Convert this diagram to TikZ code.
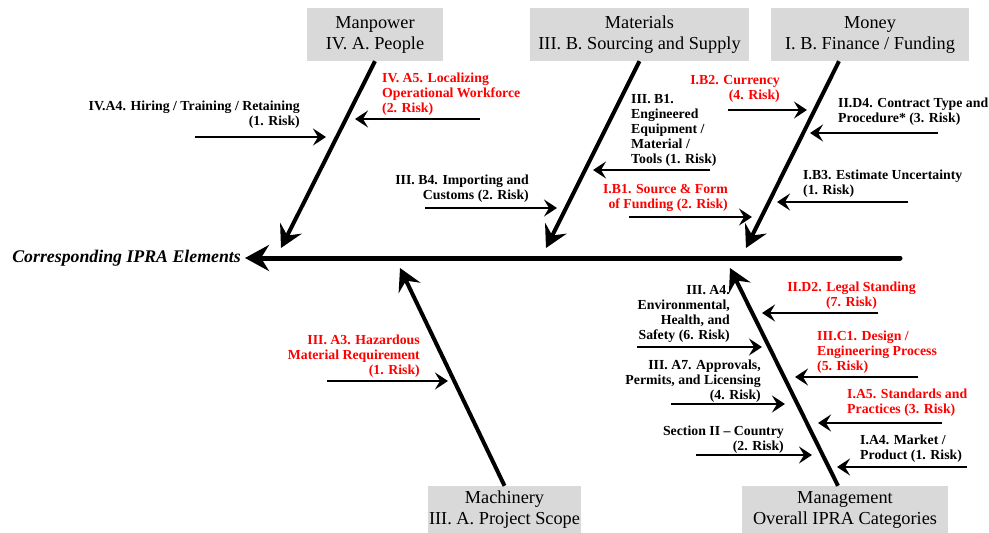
\documentclass[tikz,border=0pt]{standalone}
\usepackage{fontspec}
\setmainfont{Liberation Serif}
\usetikzlibrary{arrows.meta}
\definecolor{boxgray}{HTML}{D9D9D9}
\definecolor{riskred}{HTML}{FF0000}
\begin{document}
\begin{tikzpicture}[x=1pt,y=-1pt,
  catbox/.style={fill=boxgray, minimum height=53pt, align=center, font=\fontsize{18.3}{21}\selectfont, inner sep=0pt},
  lab/.style={font=\bfseries\fontsize{13.8}{15}\selectfont, inner sep=0pt},
  redlab/.style={lab, text=riskred},
  spine/.style={line width=5pt, -{Stealth[length=24pt,width=26pt,inset=8pt]}},
  bone/.style={line width=4pt, -{Stealth[length=22pt,width=24pt,inset=8pt]}},
  sub/.style={line width=2pt, -{Stealth[length=13pt,width=17pt,inset=5pt]}}]
\fill[white] (0,0) rectangle (989,533);
\useasboundingbox (0,0) rectangle (989,533);

% category boxes
\node[catbox, minimum width=136pt] (manpower) at (375,34.5) {Manpower\\IV. A. People};
\node[catbox, minimum width=219pt] (materials) at (639.5,34.5) {Materials\\III. B. Sourcing and Supply};
\node[catbox, minimum width=198pt] (money) at (870,34.5) {Money\\I. B. Finance / Funding};
\node[catbox, minimum width=153pt, minimum height=47pt] (machinery) at (504.5,509.5) {Machinery\\III. A. Project Scope};
\node[catbox, minimum width=206pt, minimum height=47pt] (management) at (845,509.5) {Management\\Overall IPRA Categories};

% spine
\node[font=\bfseries\itshape\fontsize{17.8}{20}\selectfont, anchor=east, inner sep=0pt] (elements) at (241,258) {Corresponding IPRA Elements};
\coordinate (spineR) at (900,258);
\draw[spine, line cap=round] (spineR) -- ([xshift=4pt]elements.east);

% bones
\coordinate (mpTip) at (281,248);
\coordinate (mtTip) at (546,248);
\coordinate (moTip) at (746,248);
\coordinate (maTip) at (400,268);
\coordinate (mgTip) at (730,268);
\draw[bone] (manpower.south) -- (mpTip);
\draw[bone] (materials.south) -- (mtTip);
\draw[bone] ([xshift=-31pt]money.south) -- (moTip);
\draw[bone] (machinery.north) -- (maTip);
\draw[bone] ([xshift=-7pt]management.north) -- (mgTip);

% sub arrows
\coordinate (hireS) at (195,137);    \coordinate (hireE) at (326,137);
\coordinate (locS) at (480,119);     \coordinate (locE) at (355,119);
\coordinate (impS) at (425,208);     \coordinate (impE) at (557,208);
\coordinate (eqS) at (710,170);      \coordinate (eqE) at (593,170);
\coordinate (srcS) at (629,217);     \coordinate (srcE) at (752,217);
\coordinate (curS) at (728,110);     \coordinate (curE) at (807,110);
\coordinate (conS) at (938,133);     \coordinate (conE) at (810,133);
\coordinate (estS) at (908,202);     \coordinate (estE) at (777,202);
\coordinate (hazS) at (327,381);     \coordinate (hazE) at (448,381);
\coordinate (envS) at (637,347);     \coordinate (envE) at (762,347);
\coordinate (appS) at (671,404);     \coordinate (appE) at (785,404);
\coordinate (ctyS) at (696,455);     \coordinate (ctyE) at (812,455);
\coordinate (legS) at (878,313);     \coordinate (legE) at (762,313);
\coordinate (desS) at (918,377);     \coordinate (desE) at (795,377);
\coordinate (staS) at (942,423);     \coordinate (staE) at (818,423);
\coordinate (mktS) at (967,467);     \coordinate (mktE) at (837,467);
\foreach \a in {hire,loc,imp,eq,src,cur,con,est,haz,env,app,cty,leg,des,sta,mkt}
  \draw[sub] (\a S) -- (\a E);

% labels
\node[lab, anchor=north east, align=right] (hireL) at (300,100.5) {IV.A4. Hiring / Training / Retaining\\(1. Risk)};
\node[redlab, anchor=north west, align=left] (locL) at (382,72.5) {IV. A5. Localizing\\Operational Workforce\\(2. Risk)};
\node[lab, anchor=north east, align=right] (impL) at (529,174.5) {III. B4. Importing and\\Customs (2. Risk)};
\node[lab, anchor=north west, align=left] (eqL) at (631,94.5) {III. B1.\\Engineered\\Equipment /\\Material /\\Tools (1. Risk)};
\node[redlab, anchor=north east, align=right] (srcL) at (728,184.5) {I.B1. Source \& Form\\of Funding (2. Risk)};
\node[redlab, anchor=north east, align=right] (curL) at (780,75.5) {I.B2. Currency\\(4. Risk)};
\node[lab, anchor=north west, align=left] (conL) at (838,97.5) {II.D4. Contract Type and\\Procedure* (3. Risk)};
\node[lab, anchor=north west, align=left] (estL) at (803,169.5) {I.B3. Estimate Uncertainty\\(1. Risk)};
\node[redlab, anchor=north east, align=right] (hazL) at (420,334.5) {III. A3. Hazardous\\Material Requirement\\(1. Risk)};
\node[lab, anchor=north east, align=right] (envL) at (730,285.5) {III. A4.\\Environmental,\\Health, and\\Safety (6. Risk)};
\node[lab, anchor=north east, align=right] (appL) at (761,359.5) {III. A7. Approvals,\\Permits, and Licensing\\(4. Risk)};
\node[lab, anchor=north east, align=right] (ctyL) at (784,425.5) {Section II – Country\\(2. Risk)};
\node[redlab, anchor=north, align=center] (legL) at (851.5,281.5) {II.D2. Legal Standing\\(7. Risk)};
\node[redlab, anchor=north west, align=left] (desL) at (817,330.5) {III.C1. Design /\\Engineering Process\\(5. Risk)};
\node[redlab, anchor=north west, align=left] (staL) at (847,388.5) {I.A5. Standards and\\Practices (3. Risk)};
\node[lab, anchor=north west, align=left] (mktL) at (860,434.5) {I.A4. Market /\\Product (1. Risk)};
\end{tikzpicture}
\end{document}
